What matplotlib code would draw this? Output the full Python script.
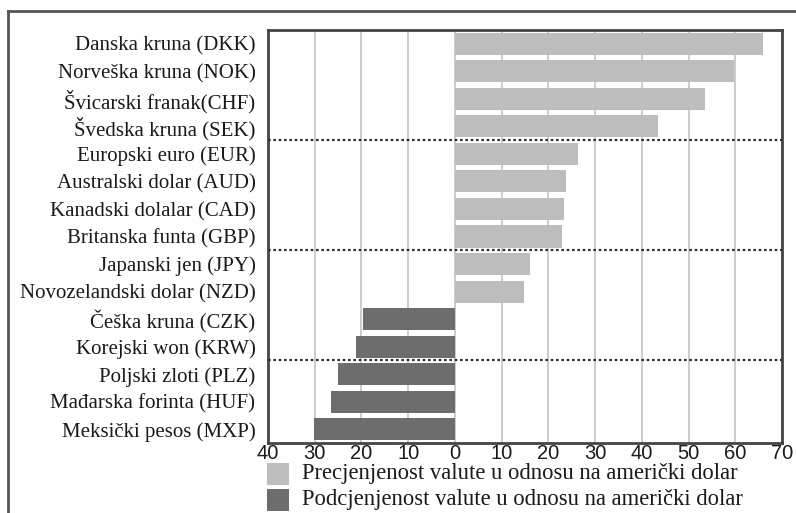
import matplotlib
matplotlib.use("Agg")
import matplotlib.pyplot as plt
from matplotlib.patches import Rectangle
from matplotlib.lines import Line2D

categories = ["Danska kruna (DKK)", "Norveška kruna (NOK)", "Švicarski franak(CHF)",
              "Švedska kruna (SEK)", "Europski euro (EUR)", "Australski dolar (AUD)",
              "Kanadski dolalar (CAD)", "Britanska funta (GBP)", "Japanski jen (JPY)",
              "Novozelandski dolar (NZD)", "Češka kruna (CZK)", "Korejski won (KRW)",
              "Poljski zloti (PLZ)", "Mađarska forinta (HUF)", "Meksički pesos (MXP)"]
values = [66, 59.8, 53.6, 43.4, 26.4, 23.8, 23.4, 23.0, 16.0, 14.7,
          -19.6, -21.2, -25.0, -26.6, -30.2]
xticks = [-40, -30, -20, -10, 0, 10, 20, 30, 40, 50, 60, 70]
xticklabels = ["40", "30", "20", "10", "0", "10", "20", "30", "40", "50", "60", "70"]
separators = [3.5, 7.5, 11.5]
legend_labels = ["Precjenjenost valute u odnosu na američki dolar",
                 "Podcjenjenost valute u odnosu na američki dolar"]

light = "#bdbdbd"
dark = "#6d6d6d"
W, H = 796, 513
fig = plt.figure(figsize=(W / 100, H / 100), dpi=100)
fig.patch.set_facecolor("white")

L, R, T, B = 268, 782, 30, 443
ax = fig.add_axes([L / W, 1 - B / H, (R - L) / W, (B - T) / H])

ypos = list(range(len(categories)))
colors = [light if v >= 0 else dark for v in values]
ax.barh(ypos, values, height=0.8, color=colors, zorder=2)
for s in separators:
    ax.axhline(s, color="#333333", linestyle=(0, (1.2, 1.2)), linewidth=1.6, zorder=3)

ax.set_xlim(-40, 70)
ax.set_ylim(len(categories) - 0.5, -0.5)
ax.set_xticks(xticks)
ax.set_xticklabels(xticklabels, fontfamily="Liberation Sans", fontsize=14.5)
ax.set_yticks(ypos)
ax.set_yticklabels(categories, fontfamily="Liberation Serif", fontsize=15.0)
ax.tick_params(axis="both", length=0, colors="#1a1a1a")
ax.tick_params(axis="x", pad=1)
ax.tick_params(axis="y", pad=9)
ax.xaxis.grid(True, color="#cccccc", linewidth=1.4, zorder=0)
ax.set_axisbelow(True)
for sp in ax.spines.values():
    sp.set_color("#444444")
    sp.set_linewidth(2)

# outer frame
fig.add_artist(Line2D([8 / W, 1.0], [1 - 11 / H, 1 - 11 / H], color="#555555", linewidth=2,
                      transform=fig.transFigure))
fig.add_artist(Line2D([8 / W, 8 / W], [1 - 11 / H, 0.0], color="#555555", linewidth=2,
                      transform=fig.transFigure))

# legend
for i, (lab, col) in enumerate(zip(legend_labels, [light, dark])):
    top = 463 + i * 26
    fig.add_artist(Rectangle((267 / W, 1 - (top + 22) / H), 22 / W, 22 / H,
                             facecolor=col, edgecolor="none", transform=fig.transFigure))
    fig.text(302 / W, 1 - (top + 10) / H, lab, fontfamily="Liberation Serif",
             fontsize=16.3, va="center", ha="left", color="#1a1a1a")

fig.savefig("out.png", dpi=100)
